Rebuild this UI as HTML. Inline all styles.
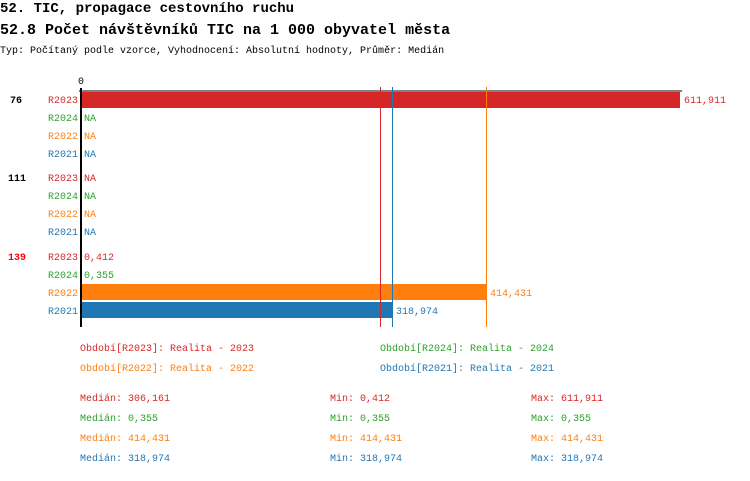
<!DOCTYPE html>
<html><head><meta charset="utf-8"><style>
html,body{margin:0;padding:0;background:#fff;}
svg text{font-family:"Liberation Mono",monospace;}
</style></head><body>
<svg width="750" height="476" xmlns="http://www.w3.org/2000/svg">
<g transform="translate(0,-1)">
<text x="0" y="13" font-size="14" fill="#000" font-weight="bold">52. TIC, propagace cestovního ruchu</text>
<text x="0" y="35" font-size="15" fill="#000" font-weight="bold">52.8 Počet návštěvníků TIC na 1 000 obyvatel města</text>
<text x="0" y="54" font-size="10" fill="#000">Typ: Počítaný podle vzorce, Vyhodnocení: Absolutní hodnoty, Průměr: Medián</text>
<text x="78" y="85" font-size="10">0</text>
</g>
<line x1="79" y1="91" x2="682" y2="91" stroke="#000" stroke-width="1"/>
<rect x="82" y="92" width="598" height="16" fill="#d62728"/>
<rect x="82" y="284" width="405" height="16" fill="#ff7f0e"/>
<rect x="82" y="302" width="311" height="16" fill="#1f77b4"/>
<line x1="380.5" y1="87" x2="380.5" y2="327" stroke="#d62728"/>
<line x1="392.5" y1="87" x2="392.5" y2="327" stroke="#1f77b4"/>
<line x1="486.5" y1="87" x2="486.5" y2="327" stroke="#ff7f0e"/>
<line x1="81" y1="88" x2="81" y2="327" stroke="#000" stroke-width="2"/>
<g font-size="10" transform="translate(0,-1)">
<text x="10" y="104" font-weight="bold" fill="#000">76</text>
<text x="8" y="182" font-weight="bold" fill="#000">111</text>
<text x="8" y="261" font-weight="bold" fill="#ff0000">139</text>
<g text-anchor="end">
<text x="78" y="104" fill="#d62728">R2023</text><text x="78" y="122" fill="#2ca02c">R2024</text><text x="78" y="140" fill="#ff7f0e">R2022</text><text x="78" y="158" fill="#1f77b4">R2021</text>
<text x="78" y="182" fill="#d62728">R2023</text><text x="78" y="200" fill="#2ca02c">R2024</text><text x="78" y="218" fill="#ff7f0e">R2022</text><text x="78" y="236" fill="#1f77b4">R2021</text>
<text x="78" y="261" fill="#d62728">R2023</text><text x="78" y="279" fill="#2ca02c">R2024</text><text x="78" y="297" fill="#ff7f0e">R2022</text><text x="78" y="315" fill="#1f77b4">R2021</text>
</g>
<text x="684" y="104" fill="#d62728">611,911</text>
<text x="84" y="122" fill="#2ca02c">NA</text><text x="84" y="140" fill="#ff7f0e">NA</text><text x="84" y="158" fill="#1f77b4">NA</text>
<text x="84" y="182" fill="#d62728">NA</text><text x="84" y="200" fill="#2ca02c">NA</text><text x="84" y="218" fill="#ff7f0e">NA</text><text x="84" y="236" fill="#1f77b4">NA</text>
<text x="84" y="261" fill="#d62728">0,412</text><text x="84" y="279" fill="#2ca02c">0,355</text>
<text x="490" y="297" fill="#ff7f0e">414,431</text><text x="396" y="315" fill="#1f77b4">318,974</text>
<text x="80" y="352" fill="#d62728">Období[R2023]: Realita - 2023</text>
<text x="380" y="352" fill="#2ca02c">Období[R2024]: Realita - 2024</text>
<text x="80" y="372" fill="#ff7f0e">Období[R2022]: Realita - 2022</text>
<text x="380" y="372" fill="#1f77b4">Období[R2021]: Realita - 2021</text>
<text x="80" y="402" fill="#d62728">Medián: 306,161</text><text x="330" y="402" fill="#d62728">Min: 0,412</text><text x="531" y="402" fill="#d62728">Max: 611,911</text>
<text x="80" y="422" fill="#2ca02c">Medián: 0,355</text><text x="330" y="422" fill="#2ca02c">Min: 0,355</text><text x="531" y="422" fill="#2ca02c">Max: 0,355</text>
<text x="80" y="442" fill="#ff7f0e">Medián: 414,431</text><text x="330" y="442" fill="#ff7f0e">Min: 414,431</text><text x="531" y="442" fill="#ff7f0e">Max: 414,431</text>
<text x="80" y="462" fill="#1f77b4">Medián: 318,974</text><text x="330" y="462" fill="#1f77b4">Min: 318,974</text><text x="531" y="462" fill="#1f77b4">Max: 318,974</text>
</g>
</svg>
</body></html>
